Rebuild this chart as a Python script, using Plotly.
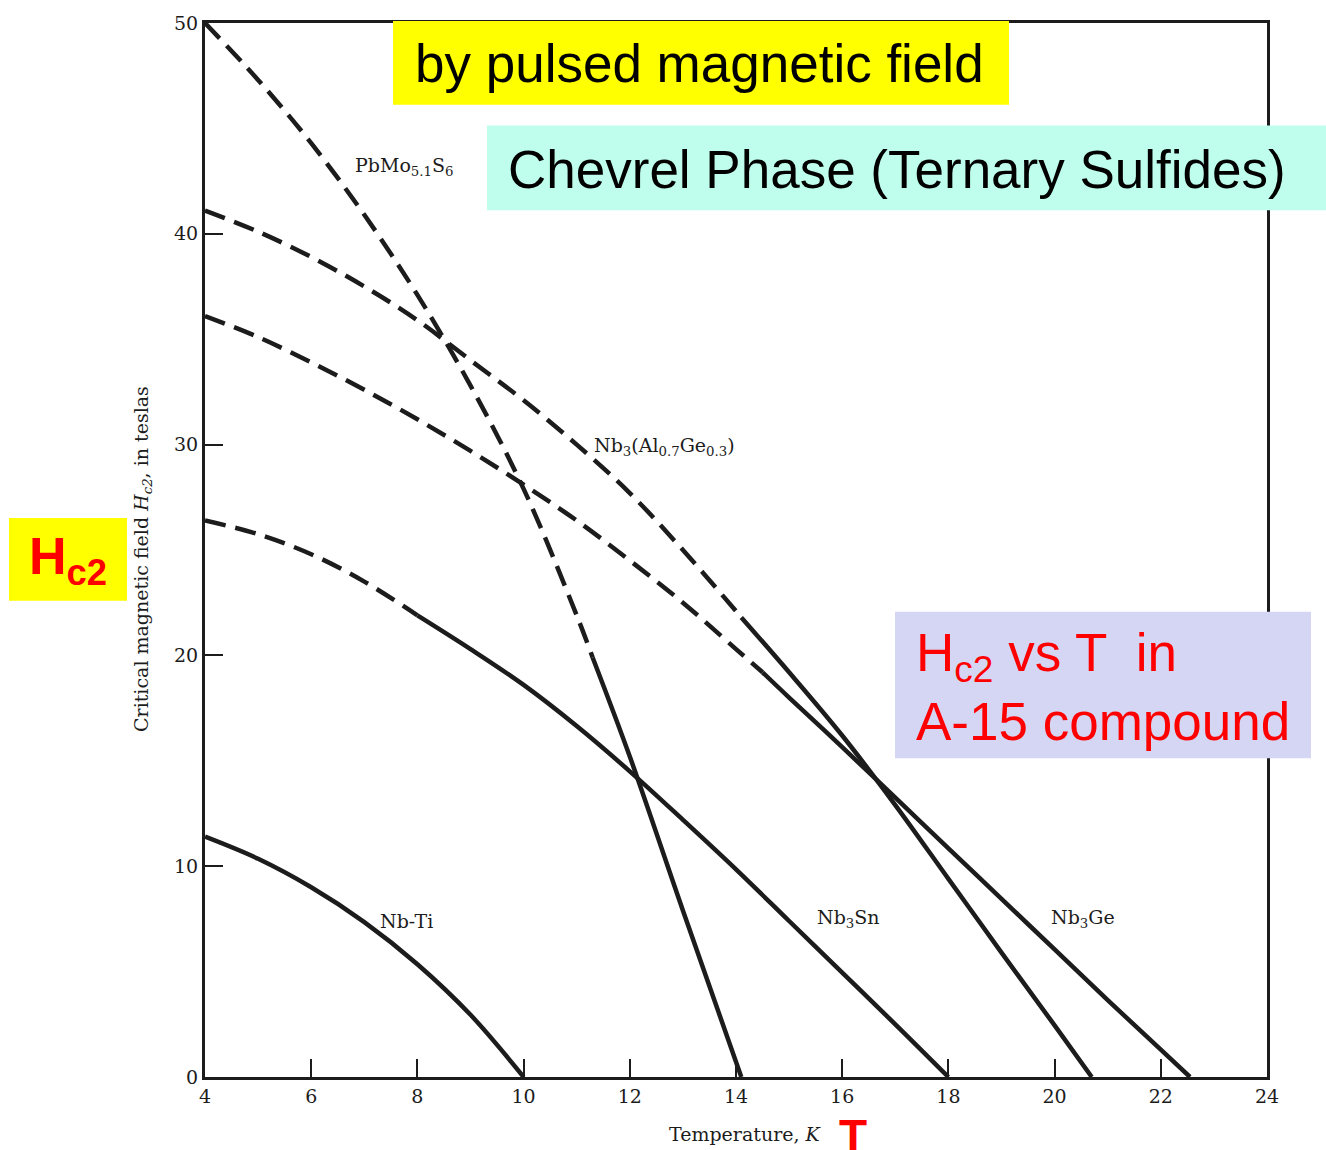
import plotly.graph_objects as go

# ---------------- data ----------------
# Temperatures in K, critical fields Hc2 in tesla
nbti_T = [4, 5, 6, 7, 8, 9, 10]
nbti_H = [11.4, 10.35, 9.0, 7.35, 5.35, 2.95, 0]

nb3sn_T_dash = [4, 5, 6, 7, 8]
nb3sn_H_dash = [26.4, 25.75, 24.8, 23.5, 21.9]
nb3sn_T_solid = [8, 9, 10, 11, 12, 13, 14, 15, 16, 17, 18]
nb3sn_H_solid = [21.9, 20.3, 18.6, 16.65, 14.5, 12.2, 9.85, 7.4, 4.95, 2.5, 0]

pbmo_T_dash = [4, 5, 6, 7, 8, 9, 10, 11, 11.3]
pbmo_H_dash = [50, 47.3, 44.3, 40.9, 37.1, 32.8, 27.9, 21.9, 19.9]
pbmo_T_solid = [11.3, 12, 13, 14.1]
pbmo_H_solid = [19.9, 15.2, 7.9, 0]

nb3alge_T_dash = [4, 5, 6, 7, 8, 9, 10, 11, 12, 13, 14, 14.1]
nb3alge_H_dash = [41.1, 40.1, 38.9, 37.5, 35.9, 34.0, 32.1, 30.0, 27.7, 25.0, 22.1, 21.8]
nb3alge_T_solid = [14.1, 15, 16, 17, 18, 19, 20, 20.7]
nb3alge_H_solid = [21.8, 19.2, 16.2, 12.9, 9.4, 5.9, 2.45, 0]

nb3ge_T_dash = [4, 5, 6, 7, 8, 9, 10, 11, 12, 13, 14, 14.5]
nb3ge_H_dash = [36.1, 35.1, 33.9, 32.6, 31.2, 29.7, 28.1, 26.4, 24.5, 22.5, 20.3, 19.2]
nb3ge_T_solid = [14.5, 15, 16, 17, 18, 19, 20, 21, 22, 22.55]
nb3ge_H_solid = [19.2, 18.0, 15.65, 13.25, 10.85, 8.45, 6.05, 3.65, 1.3, 0]

x_ticks = [4, 6, 8, 10, 12, 14, 16, 18, 20, 22, 24]
y_ticks = [0, 10, 20, 30, 40, 50]

curve_labels = ["PbMo<sub>5.1</sub>S<sub>6</sub>",
                "Nb<sub>3</sub>(Al<sub>0.7</sub>Ge<sub>0.3</sub>)",
                "Nb<sub>3</sub>Sn", "Nb<sub>3</sub>Ge", "Nb-Ti"]
label_T = [7.75, 12.66, 16.11, 20.53, 7.8]
label_H = [43.2, 29.9, 7.5, 7.5, 7.4]

# ---------------- styling ----------------
INK = "#1c1c1c"
SERIF = "DejaVu Serif"
SANS = "Liberation Sans, Arial, sans-serif"
W, H = 1326, 1150
L, R, T, B = 205, 1267, 19, 1077  # plot area in pixels


def px(x):
    return (x - L) / (R - L)


def py(y):
    return (B - y) / (B - T)


fig = go.Figure()


def add(xs, ys, dashed):
    fig.add_trace(go.Scatter(
        x=xs, y=ys, mode="lines",
        line=dict(color=INK, width=4.5, shape="spline", smoothing=1.0,
                  dash="21px,10px" if dashed else "solid"),
        hoverinfo="skip", showlegend=False))


add(nbti_T, nbti_H, False)
add(nb3sn_T_dash, nb3sn_H_dash, True)
add(nb3sn_T_solid, nb3sn_H_solid, False)
add(pbmo_T_dash, pbmo_H_dash, True)
add(pbmo_T_solid, pbmo_H_solid, False)
add(nb3alge_T_dash, nb3alge_H_dash, True)
add(nb3alge_T_solid, nb3alge_H_solid, False)
add(nb3ge_T_dash, nb3ge_H_dash, True)
add(nb3ge_T_solid, nb3ge_H_solid, False)

annotations = []
for txt, tx, hy in zip(curve_labels, label_T, label_H):
    annotations.append(dict(x=tx, y=hy, xref="x", yref="y", text=txt,
                            xanchor="center", yanchor="middle",
                            showarrow=False, font=dict(family=SERIF, size=19, color=INK)))


def note(x, y, text, size, color, family=SANS, **kw):
    d = dict(x=px(x), y=py(y), xref="paper", yref="paper", text=text,
             showarrow=False, xanchor="center", yanchor="middle",
             font=dict(family=family, size=size, color=color))
    d.update(kw)
    annotations.append(d)


# axis titles
note(745, 1134, "Temperature, <i>K</i>", 19, INK, family=SERIF)
note(143, 557, "Critical magnetic field <i>H<sub>c2</sub></i>, in teslas", 19, INK,
     family=SERIF, textangle=-90)

# overlay boxes
shapes = []


def box(x0, y0, x1, y1, color):
    shapes.append(dict(type="rect", xref="paper", yref="paper",
                       x0=px(x0), x1=px(x1), y0=py(y1), y1=py(y0),
                       fillcolor=color, line=dict(width=0), layer="above"))


box(393, 17, 1009, 101, "#FFFF00")
box(487, 122, 1326, 207, "#BFFDEC")
box(895, 610, 1311, 757, "#D4D6F4")
box(9, 516, 127, 599, "#FFFF00")

note(699, 60, "by pulsed magnetic field", 53, "black")
note(897, 166, "Chevrel Phase (Ternary Sulfides)", 53, "black")
note(914, 686, "H<sub>c2</sub> vs T  in<br>A-15 compound", 53, "#FF0000",
     xanchor="left", align="left")
note(68, 558, "<b>H<sub>c2</sub></b>", 52, "#FF0000")
note(853, 1136, "<b>T</b>", 46, "#FF0000")

axis_common = dict(showline=True, linecolor=INK, linewidth=3, mirror=True,
                   ticks="inside", tickcolor=INK, tickwidth=2, ticklen=18,
                   showgrid=False, zeroline=False,
                   tickfont=dict(family=SERIF, size=19, color=INK))

fig.update_layout(
    width=W, height=H,
    margin=dict(l=L, r=W - R, t=T, b=H - B),
    paper_bgcolor="white", plot_bgcolor="white",
    xaxis=dict(range=[4, 24], tickvals=x_ticks, ticktext=[str(v) for v in x_ticks], **axis_common),
    yaxis=dict(range=[0, 50], tickvals=y_ticks, ticktext=[str(v) for v in y_ticks], **axis_common),
    shapes=shapes, annotations=annotations,
)

fig.write_html("out.html")
